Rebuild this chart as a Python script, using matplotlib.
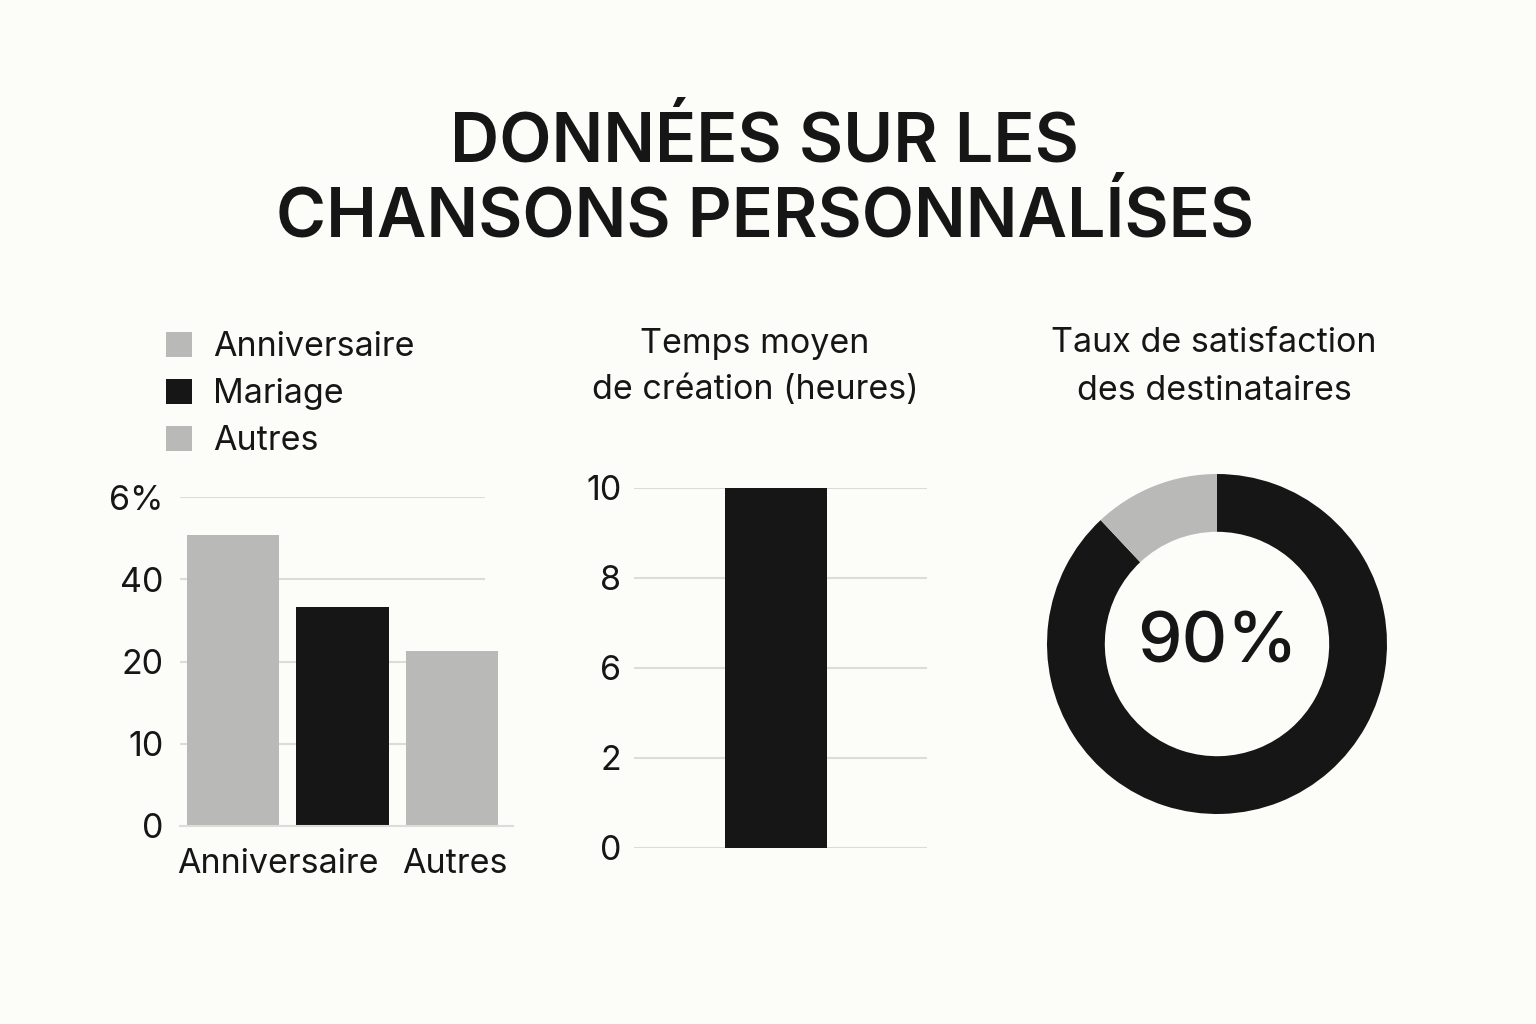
import matplotlib
matplotlib.use('Agg')
import matplotlib.pyplot as plt
from matplotlib.patches import Patch

plt.rcParams['font.family'] = ['Inter', 'DejaVu Sans']

BG = '#fcfcf9'
INK = '#161616'
GREY = '#b9b9b7'
GRID = '#dcdcda'

title = 'DONNÉES SUR LES\nCHANSONS PERSONNALÍSES'

# left panel: song types (axis labels are uneven, as in the source)
occasions = ['Anniversaire', 'Mariage', 'Autres']
occasion_values = [53, 40, 32]
occasion_colors = [GREY, INK, GREY]
occ_ticks = [0, 15, 30, 45, 60]
occ_ticklabels = ['0', '10', '20', '40', '6%']
occ_xlabels = ['Anniversaire', 'Autres']

# middle panel: average creation time
time_title = 'Temps moyen\nde création (heures)'
time_value = 10
time_ticks = [0, 2.5, 5, 7.5, 10]
time_ticklabels = ['0', '2', '6', '8', '10']

# right panel: satisfaction donut
sat_title = 'Taux de satisfaction\ndes destinataires'
sat_values = [88, 12]
sat_label = '90%'

FS = 24.5

fig = plt.figure(figsize=(15.36, 10.24), dpi=100, facecolor=BG)

fig.text(0.498, 1-180/1024, title, ha='center', va='center', fontsize=49,
         fontweight='semibold', color=INK, linespacing=1.18)

# ---- left bars
ax1 = fig.add_axes([180/1536, 1-826/1024, 333/1536, 329/1024])
ax1.set_facecolor('none')
x = range(len(occasions))
ax1.bar(x, occasion_values, width=0.845, color=occasion_colors, zorder=2)
ax1.hlines(occ_ticks[1:], -0.486, 2.30, color=GRID, lw=1.5, zorder=1)
ax1.set_xlim(-0.486, 2.555)
ax1.set_ylim(0, 60)
ax1.set_yticks(occ_ticks)
ax1.set_yticklabels(occ_ticklabels)
ax1.set_xticks([0.41, 2.02])
ax1.set_xticklabels(occ_xlabels)
for s in ['top', 'right', 'left']:
    ax1.spines[s].set_visible(False)
ax1.spines['bottom'].set_color(GRID)
ax1.spines['bottom'].set_linewidth(1.5)
ax1.tick_params(axis='both', length=0, labelsize=FS, colors=INK)
ax1.tick_params(axis='y', pad=12)
ax1.tick_params(axis='x', pad=16)

handles = [Patch(facecolor=c, edgecolor='none') for c in occasion_colors]
fig.legend(handles, occasions, loc='upper left',
           bbox_to_anchor=(166/1536, 1-331/1024), frameon=False,
           fontsize=FS, handlelength=0.76, handleheight=0.76, borderpad=0,
           borderaxespad=0, handletextpad=0.62, labelspacing=0.44,
           labelcolor=INK)

# ---- middle bar
ax2 = fig.add_axes([634/1536, 1-848/1024, 293/1536, 360/1024])
ax2.set_facecolor('none')
ax2.bar([0], [time_value], width=1, color=INK, zorder=2)
ax2.set_xlim(-1.39, 1.48)
ax2.set_ylim(0, 10)
ax2.set_yticks(time_ticks)
ax2.set_yticklabels(time_ticklabels)
ax2.grid(axis='y', color=GRID, lw=1.5, zorder=1)
ax2.set_axisbelow(True)
ax2.set_xticks([])
for s in ax2.spines.values():
    s.set_visible(False)
ax2.tick_params(axis='y', length=0, labelsize=FS, colors=INK, pad=9)
fig.text(755/1536, 1-367/1024, time_title, ha='center', va='center',
         fontsize=FS, color=INK, linespacing=1.6)

# ---- donut
ax3 = fig.add_axes([(1217-170)/1536, 1-(644+170)/1024, 340/1536, 340/1024])
ax3.pie(sat_values, colors=[INK, GREY], startangle=90, counterclock=False,
        radius=1, wedgeprops=dict(width=0.34, edgecolor='none'))
ax3.set_xlim(-1, 1)
ax3.set_ylim(-1, 1)
ax3.text(0, 0, sat_label, ha='center', va='center', fontsize=51,
         fontweight='medium', color=INK)
fig.text(1214/1536, 1-367/1024, sat_title, ha='center', va='center',
         fontsize=FS, color=INK, linespacing=1.6)

fig.savefig('out.png', dpi=100, facecolor=BG)
